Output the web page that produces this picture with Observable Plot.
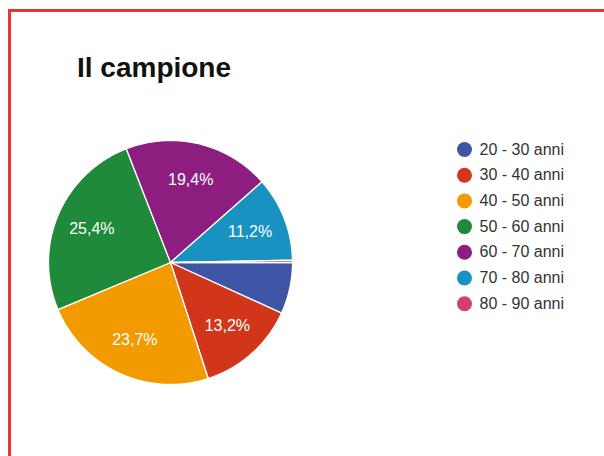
<!DOCTYPE html>
<html>
<head>
<meta charset="utf-8">
<script src="https://cdn.jsdelivr.net/npm/d3@7"></script>
<script src="https://cdn.jsdelivr.net/npm/@observablehq/plot@0.6"></script>
<style>
  html, body { margin: 0; padding: 0; background: #fff; overflow: hidden; }
  #wrap { position: relative; width: 604px; height: 456px; overflow: hidden; font-family: "Liberation Sans", Arial, sans-serif; }
  #frame { position: absolute; left: 8px; top: 9px; width: 800px; height: 800px; border-left: 3px solid #e8352f; border-top: 3px solid #e8352f; box-sizing: border-box; }
  #title { position: absolute; left: 77px; top: 54px; font-size: 28px; line-height: 28px; font-weight: bold; color: #111; white-space: nowrap; }
  #pie { position: absolute; left: 0; top: 0; }
  #legend { position: absolute; left: 452px; top: 136px; }
</style>
</head>
<body>
<div id="wrap">
  <div id="frame"></div>
  <div id="pie"></div>
  <div id="title">Il campione</div>
  <div id="legend"></div>
</div>
<script>
const categories = ["20 - 30 anni", "30 - 40 anni", "40 - 50 anni", "50 - 60 anni", "60 - 70 anni", "70 - 80 anni", "80 - 90 anni"];
const values = [6.8, 13.2, 23.7, 25.4, 19.4, 11.2, 0.3];
const colors = ["#3e55a5", "#d1361b", "#f39a00", "#1f8b3a", "#8d1e80", "#1892c0", "#d43f72"];

const data = categories.map((c, i) => ({cat: c, value: values[i]}));

const arcs = d3.pie().sort(null).value(d => d.value)
  .startAngle(Math.PI / 2).endAngle(Math.PI / 2 + 2 * Math.PI)(data);

const slicePts = [];
const labels = [];
arcs.forEach(a => {
  const n = Math.max(2, Math.ceil((a.endAngle - a.startAngle) / (Math.PI / 360)));
  slicePts.push({cat: a.data.cat, x: 0, y: 0});
  for (let k = 0; k <= n; k++) {
    const t = a.startAngle + (a.endAngle - a.startAngle) * k / n;
    slicePts.push({cat: a.data.cat, x: Math.sin(t), y: Math.cos(t)});
  }
  slicePts.push({cat: a.data.cat, x: 0, y: 0});
  if (a.data.value >= 10) {
    const m = (a.startAngle + a.endAngle) / 2;
    labels.push({x: 0.7 * Math.sin(m), y: 0.7 * Math.cos(m),
      text: a.data.value.toFixed(1).replace(".", ",") + "%"});
  }
});

const cx = 170, cy = 262, r = 122;
const pie = Plot.plot({
  width: 604, height: 456, margin: 0,
  style: {background: "transparent", fontFamily: "Liberation Sans, Arial, sans-serif"},
  x: {domain: [-1, 1], range: [cx - r, cx + r], axis: null},
  y: {domain: [-1, 1], range: [cy + r, cy - r], axis: null},
  color: {domain: categories, range: colors},
  marks: [
    Plot.line(slicePts, {x: "x", y: "y", z: "cat", fill: "cat", stroke: "white", strokeWidth: 1.3, curve: "linear-closed"}),
    Plot.text(labels, {x: "x", y: "y", text: "text", fill: "white", fontSize: 16})
  ]
});
document.getElementById("pie").appendChild(pie);

const legend = Plot.plot({
  width: 152, height: 180, margin: 0,
  style: {background: "transparent", fontFamily: "Liberation Sans, Arial, sans-serif"},
  y: {type: "point", domain: categories, range: [13, 13 + 6 * 25.7], padding: 0, round: false, axis: null},
  color: {domain: categories, range: colors},
  marks: [
    Plot.dot(categories, {y: d => d, fill: d => d, r: 7.5, frameAnchor: "left", dx: 12}),
    Plot.text(categories, {y: d => d, text: d => d, frameAnchor: "left", dx: 27, textAnchor: "start", fill: "#333", fontSize: 16})
  ]
});
document.getElementById("legend").appendChild(legend);
</script>
</body>
</html>
